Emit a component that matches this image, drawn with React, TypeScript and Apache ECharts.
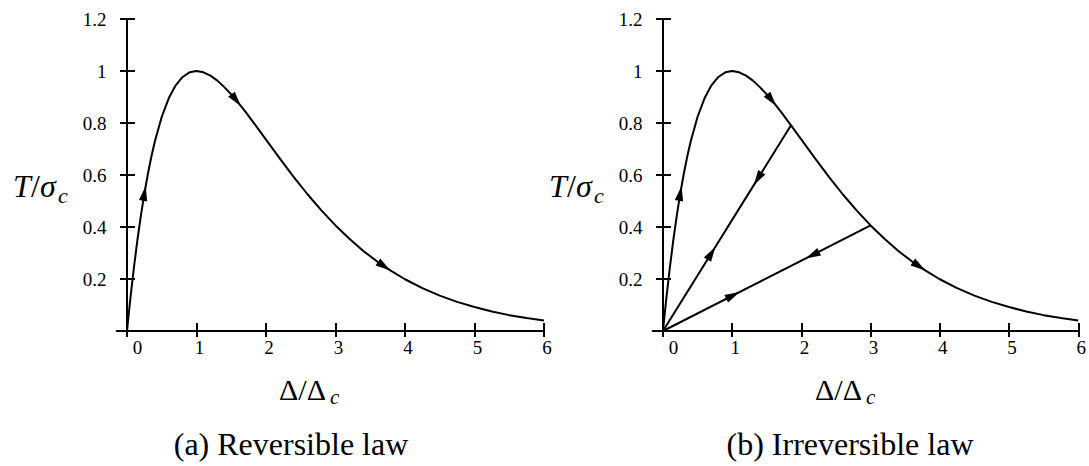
import React, { useEffect, useRef } from "react";
import * as echarts from "echarts";

// Normalised traction–separation curve: Δ/Δc and T/σc
const CURVE_X = [
  0, 0.02, 0.05, 0.1, 0.15, 0.2, 0.25, 0.3, 0.35, 0.4, 0.5, 0.6, 0.7, 0.8, 0.9,
  1.0, 1.1, 1.2, 1.3, 1.4, 1.5, 1.6, 1.7, 1.85, 2.0, 2.2, 2.4, 2.6, 2.8, 3.0,
  3.2, 3.4, 3.6, 3.8, 4.0, 4.25, 4.5, 4.75, 5.0, 5.25, 5.5, 5.75, 6.0,
];
const CURVE_T = [
  0, 0.053, 0.129, 0.246, 0.351, 0.445, 0.529, 0.604, 0.67, 0.729, 0.824, 0.895,
  0.945, 0.977, 0.995, 1.0, 0.995, 0.982, 0.963, 0.938, 0.91, 0.878, 0.845,
  0.791, 0.736, 0.663, 0.592, 0.525, 0.463, 0.406, 0.355, 0.308, 0.267, 0.231,
  0.199, 0.165, 0.136, 0.112, 0.092, 0.075, 0.061, 0.05, 0.04,
];

// Unloading paths back to the origin (irreversible law)
const UNLOAD_A_X = [1.85, 0];
const UNLOAD_A_T = [0.791, 0];
const UNLOAD_B_X = [3.0, 0];
const UNLOAD_B_T = [0.406, 0];

// Direction arrows: [x, T, towardX, towardT]
const CURVE_ARROWS = [
  [0.25, 0.529, 0.3, 0.604],
  [1.57, 0.888, 1.62, 0.871],
  [3.7, 0.249, 3.8, 0.231],
];
const UNLOAD_ARROWS = [
  [1.37, 0.586, 0, 0],
  [0.7, 0.299, 1.85, 0.791],
  [2.16, 0.292, 0, 0],
  [1.01, 0.137, 3.0, 0.406],
];

const X_TICKS = [0, 1, 2, 3, 4, 5, 6];
const Y_TICKS = [0.2, 0.4, 0.6, 0.8, 1, 1.2];

const SERIF = "Times New Roman, Liberation Serif, Tinos, DejaVu Serif, Noto Serif, serif";
const BLACK = "#000";

const toPairs = (xs: number[], ys: number[]) => xs.map((x, i) => [x, ys[i]]);

function arrowRender(params: any, api: any) {
  const p = api.coord([api.value(0), api.value(1)]);
  const q = api.coord([api.value(2), api.value(3)]);
  const dx = q[0] - p[0];
  const dy = q[1] - p[1];
  const len = Math.hypot(dx, dy) || 1;
  const ux = dx / len;
  const uy = dy / len;
  const L = 15;
  const W = 4.2;
  const tip = [p[0] + (ux * L) / 2, p[1] + (uy * L) / 2];
  const bx = p[0] - (ux * L) / 2;
  const by = p[1] - (uy * L) / 2;
  return {
    type: "polygon",
    shape: {
      points: [tip, [bx - uy * W, by + ux * W], [bx + uy * W, by - ux * W]],
    },
    style: { fill: BLACK },
  };
}

function xAxesFor(gridIndex: number) {
  const line = { color: BLACK, width: 2 };
  return [
    {
      type: "value",
      gridIndex,
      min: -0.15,
      max: 6,
      position: "bottom",
      axisLine: { show: true, onZero: false, lineStyle: line },
      axisTick: { show: true, inside: false, length: 6, lineStyle: line, customValues: X_TICKS },
      axisLabel: {
        show: true,
        customValues: X_TICKS,
        margin: 7,
        fontSize: 19,
        fontFamily: SERIF,
        color: BLACK,
        formatter: (v: number) => (v === 0 ? "{z|0}" : "{n|" + v + "}"),
        rich: {
          z: { fontSize: 19, fontFamily: SERIF, color: BLACK, padding: [0, 0, 0, 21] },
          n: { fontSize: 19, fontFamily: SERIF, color: BLACK, padding: [0, 0, 0, 6] },
        },
      },
      splitLine: { show: false },
    },
    {
      type: "value",
      gridIndex,
      min: -0.15,
      max: 6,
      position: "bottom",
      axisLine: { show: false, onZero: false },
      axisTick: { show: true, inside: true, length: 8, lineStyle: line, customValues: X_TICKS },
      axisLabel: { show: false },
      splitLine: { show: false },
    },
  ];
}

function yAxesFor(gridIndex: number, zeroX: number) {
  const line = { color: BLACK, width: 2 };
  return [
    {
      type: "value",
      gridIndex,
      min: 0,
      max: 1.2,
      position: "left",
      axisLine: { show: true, onZero: true, onZeroAxisIndex: zeroX, lineStyle: line },
      axisTick: { show: true, inside: false, length: 7, lineStyle: line, customValues: Y_TICKS },
      axisLabel: {
        show: true,
        customValues: Y_TICKS,
        margin: 10,
        fontSize: 19,
        fontFamily: SERIF,
        color: BLACK,
      },
      splitLine: { show: false },
    },
    {
      type: "value",
      gridIndex,
      min: 0,
      max: 1.2,
      position: "left",
      axisLine: { show: false, onZero: true, onZeroAxisIndex: zeroX },
      axisTick: { show: true, inside: true, length: 8, lineStyle: line, customValues: Y_TICKS },
      axisLabel: { show: false },
      splitLine: { show: false },
    },
  ];
}

function curveSeries(axisIndex: number, data: number[][]) {
  return {
    type: "line",
    xAxisIndex: axisIndex,
    yAxisIndex: axisIndex,
    data,
    showSymbol: false,
    symbol: "none",
    clip: false,
    silent: true,
    lineStyle: { color: BLACK, width: 2 },
  };
}

function arrowSeries(axisIndex: number, data: number[][]) {
  return {
    type: "custom",
    coordinateSystem: "cartesian2d",
    xAxisIndex: axisIndex,
    yAxisIndex: axisIndex,
    data,
    encode: { x: [0, 2], y: [1, 3] },
    renderItem: arrowRender,
    clip: false,
    silent: true,
    z: 5,
  };
}

function labelTexts(dx: number, caption: string, captionX: number) {
  const t = (text: string, x: number, y: number, size: number, italic: boolean, align = "left") => ({
    type: "text",
    style: {
      text,
      x,
      y,
      fontSize: size,
      fontFamily: SERIF,
      fontStyle: italic ? "italic" : "normal",
      fill: BLACK,
      align,
      verticalAlign: "middle",
    },
    silent: true,
  });
  return [
    // T/σc
    t("T", 13 + dx, 186, 32, true),
    t("/", 31 + dx, 186, 32, false),
    t("σ", 40 + dx, 186, 32, true),
    t("c", 58 + dx, 195, 22, true),
    // Δ/Δc
    t("Δ/Δ", 279 + dx, 389, 30, false),
    t("c", 330 + dx, 397, 21, true),
    // caption
    t(caption, captionX, 444, 32, false, "center"),
  ];
}

export default function App() {
  const ref = useRef<HTMLDivElement>(null);

  useEffect(() => {
    if (!ref.current) return;
    const chart = echarts.init(ref.current, null, { renderer: "svg" });
    const curve = toPairs(CURVE_X, CURVE_T);

    chart.setOption({
      animation: false,
      backgroundColor: "#fff",
      textStyle: { fontFamily: SERIF },
      grid: [
        { left: 116.6, top: 19, width: 427.4, height: 312 },
        { left: 652.6, top: 19, width: 427.4, height: 312 },
      ],
      xAxis: [...xAxesFor(0), ...xAxesFor(1)],
      yAxis: [...yAxesFor(0, 0), ...yAxesFor(1, 2)],
      series: [
        curveSeries(0, curve),
        arrowSeries(0, CURVE_ARROWS),
        curveSeries(2, curve),
        curveSeries(2, toPairs(UNLOAD_A_X, UNLOAD_A_T)),
        curveSeries(2, toPairs(UNLOAD_B_X, UNLOAD_B_T)),
        arrowSeries(2, [...CURVE_ARROWS, ...UNLOAD_ARROWS]),
      ],
      graphic: [
        ...labelTexts(0, "(a) Reversible law", 291),
        ...labelTexts(536, "(b) Irreversible law", 850),
      ],
    });

    return () => chart.dispose();
  }, []);

  return (
    <div
      ref={ref}
      style={{ position: "fixed", left: 0, top: 0, width: 1089, height: 466, background: "#fff" }}
    />
  );
}
